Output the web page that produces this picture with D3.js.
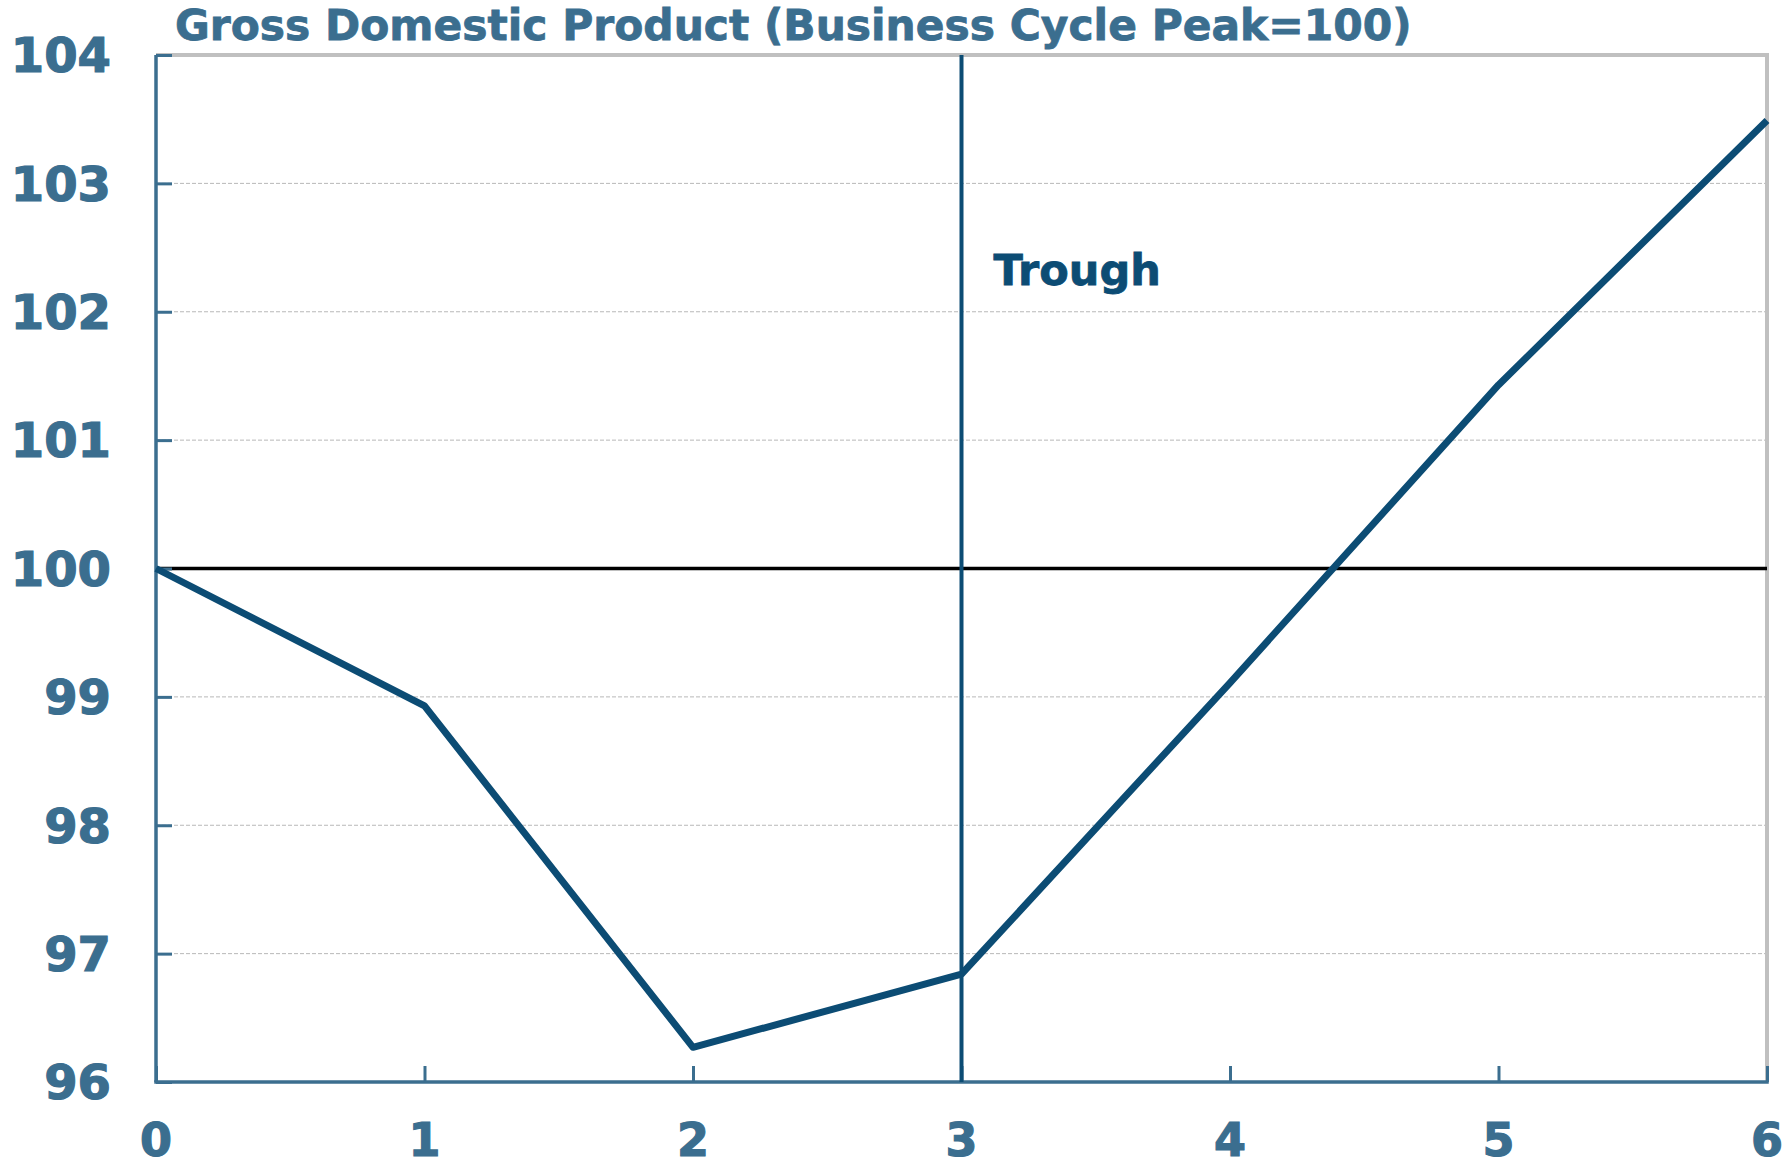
<!DOCTYPE html>
<html>
<head>
<meta charset="utf-8">
<script src="https://cdn.jsdelivr.net/npm/d3@7"></script>
<style>
  body { margin: 0; background: #fff; }
  text { font-family: "DejaVu Sans", Verdana, sans-serif; font-weight: bold; }
</style>
</head>
<body>
<div id="chart"></div>
<script>
// Quarters after the business cycle peak and GDP index values
var quarters = [0, 1, 2, 3, 4, 5, 6];
var gdpIndex = [100, 98.93, 96.27, 96.84, 99.11, 101.43, 103.49];
var yTicks = [96, 97, 98, 99, 100, 101, 102, 103, 104];
var troughQuarter = 3;
var baseline = 100;
var chartTitle = "Gross Domestic Product (Business Cycle Peak=100)";

var svgWidth = 1790;
var svgHeight = 1168;

var margin = { top: 55, right: 23, bottom: 86, left: 156 };
var width = svgWidth - margin.left - margin.right;
var height = svgHeight - margin.top - margin.bottom;

var axisColor = "#3b6e8f";
var lineColor = "#0c4c74";

var svg = d3.select("#chart")
    .append("svg")
    .attr("width", svgWidth)
    .attr("height", svgHeight);

var chartGroup = svg.append("g")
    .attr("transform", `translate(${margin.left}, ${margin.top})`);

var xScale = d3.scaleLinear()
    .domain([0, 6])
    .range([0, width]);

var yScale = d3.scaleLinear()
    .domain([96, 104])
    .range([height, 0]);

// Dashed gridlines
chartGroup.selectAll(".grid")
    .data(yTicks.filter(d => d !== 96 && d !== 104 && d !== baseline))
    .enter()
    .append("line")
    .attr("x1", 0)
    .attr("x2", width)
    .attr("y1", d => yScale(d))
    .attr("y2", d => yScale(d))
    .attr("stroke", "#b8b8b8")
    .attr("stroke-width", 1)
    .attr("stroke-dasharray", "4,2");

// Top and right frame
chartGroup.append("path")
    .attr("d", `M0,${yScale(104)}H${width}V${height}`)
    .attr("fill", "none")
    .attr("stroke", "#c0c0c0")
    .attr("stroke-width", 4);

// Baseline at 100
chartGroup.append("line")
    .attr("x1", 0)
    .attr("x2", width)
    .attr("y1", yScale(baseline))
    .attr("y2", yScale(baseline))
    .attr("stroke", "#000")
    .attr("stroke-width", 3.5);

// Left axis with inward ticks
var leftAxis = d3.axisRight(yScale)
    .tickValues(yTicks)
    .tickSize(16)
    .tickFormat("");

var gLeft = chartGroup.append("g").call(leftAxis);
gLeft.select(".domain").remove();
gLeft.selectAll(".tick line")
    .attr("stroke", axisColor)
    .attr("stroke-width", 3);

chartGroup.append("line")
    .attr("x1", 0).attr("x2", 0)
    .attr("y1", 0).attr("y2", height)
    .attr("stroke", axisColor)
    .attr("stroke-width", 3.5);

// Verdana-like labels are a bit heavier, thicken with a thin stroke
chartGroup.selectAll(".ylab")
    .data(yTicks)
    .enter()
    .append("text")
    .attr("x", -45)
    .attr("y", d => yScale(d))
    .attr("dy", "0.36em")
    .attr("text-anchor", "end")
    .style("font-size", "48px")
    .style("fill", axisColor)
    .style("stroke", axisColor)
    .style("stroke-width", 1.2)
    .text(d => d);

// Bottom axis with upward ticks
var bottomAxis = d3.axisTop(xScale)
    .tickValues(quarters)
    .tickSize(16)
    .tickFormat("");

var gBottom = chartGroup.append("g")
    .attr("transform", `translate(0, ${height})`)
    .call(bottomAxis);
gBottom.select(".domain").remove();
gBottom.selectAll(".tick line")
    .attr("stroke", axisColor)
    .attr("stroke-width", 3);

chartGroup.append("line")
    .attr("x1", 0).attr("x2", width)
    .attr("y1", height).attr("y2", height)
    .attr("stroke", axisColor)
    .attr("stroke-width", 3.5)
    .attr("stroke-linecap", "square");

chartGroup.selectAll(".xlab")
    .data(quarters)
    .enter()
    .append("text")
    .attr("x", d => xScale(d))
    .attr("y", height + 74)
    .attr("text-anchor", "middle")
    .style("font-size", "46px")
    .style("fill", axisColor)
    .style("stroke", axisColor)
    .style("stroke-width", 1.2)
    .text(d => d);

// Trough marker
chartGroup.append("line")
    .attr("x1", xScale(troughQuarter))
    .attr("x2", xScale(troughQuarter))
    .attr("y1", 0)
    .attr("y2", height)
    .attr("stroke", lineColor)
    .attr("stroke-width", 4);

chartGroup.append("text")
    .attr("x", xScale(troughQuarter) + 32)
    .attr("y", yScale(102.21))
    .style("font-size", "43px")
    .style("fill", lineColor)
    .style("stroke", lineColor)
    .style("stroke-width", 0.8)
    .text("Trough");

// GDP line
var line = d3.line()
    .x((d, i) => xScale(quarters[i]))
    .y(d => yScale(d));

chartGroup.append("path")
    .datum(gdpIndex)
    .attr("d", line)
    .attr("fill", "none")
    .attr("stroke", lineColor)
    .attr("stroke-width", 7)
    .attr("stroke-linejoin", "round");

// Title
var title = svg.append("text")
    .attr("x", 175)
    .attr("y", 40)
    .style("font-size", "40px")
    .style("fill", axisColor)
    .style("stroke", axisColor)
    .style("stroke-width", 0.8)
    .text(chartTitle);

// fit title to the width it has in the reference
var tw = title.node().getComputedTextLength();
title.style("font-size", (40 * 1238 / tw).toFixed(1) + "px");
</script>
</body>
</html>
